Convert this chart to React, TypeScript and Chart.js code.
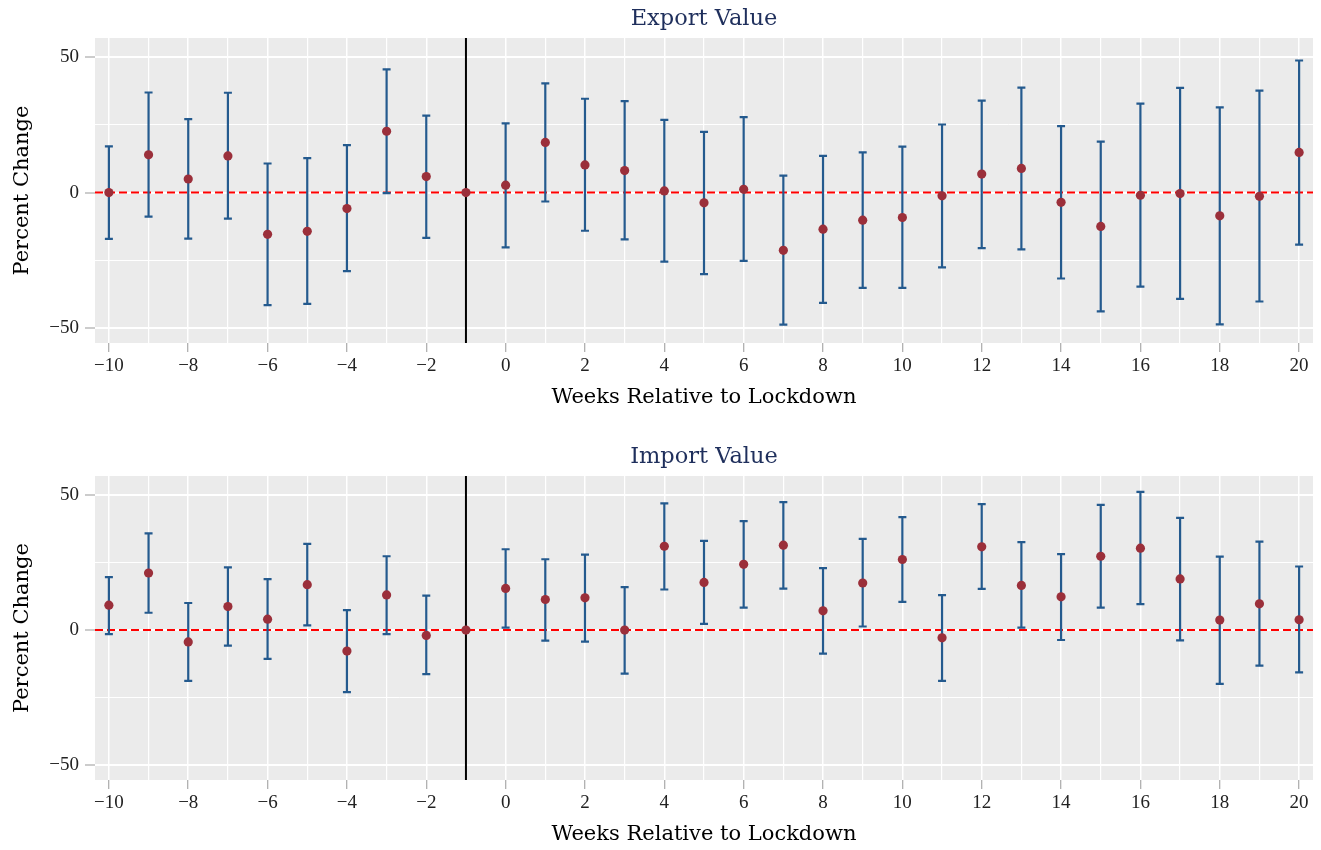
import React, { useEffect, useRef } from 'react';
import { Chart, registerables } from 'chart.js';

Chart.register(...registerables);

// ---------- data ----------
const weeks = [-10, -9, -8, -7, -6, -5, -4, -3, -2, -1, 0, 1, 2, 3, 4, 5, 6, 7, 8, 9, 10, 11, 12, 13, 14, 15, 16, 17, 18, 19, 20];

const exportCoef = [0, 13.9, 5.0, 13.5, -15.4, -14.3, -5.9, 22.6, 5.9, 0, 2.7, 18.5, 10.2, 8.1, 0.6, -3.8, 1.2, -21.3, -13.5, -10.2, -9.2, -1.2, 6.8, 8.9, -3.6, -12.5, -1.0, -0.4, -8.6, -1.4, 14.8];
const exportLo = [-17.1, -8.9, -17.0, -9.6, -41.5, -41.1, -29.0, -0.2, -16.7, null, -20.2, -3.3, -14.1, -17.3, -25.5, -30.1, -25.2, -48.7, -40.7, -35.2, -35.2, -27.6, -20.5, -21.0, -31.7, -43.8, -34.7, -39.2, -48.6, -40.2, -19.2];
const exportHi = [17.0, 36.9, 27.1, 36.8, 10.7, 12.7, 17.5, 45.4, 28.4, null, 25.5, 40.3, 34.6, 33.7, 26.8, 22.4, 27.8, 6.2, 13.5, 14.8, 16.9, 25.1, 33.9, 38.7, 24.5, 18.8, 32.8, 38.6, 31.4, 37.6, 48.7];

const importCoef = [9.2, 21.1, -4.4, 8.7, 4.0, 16.8, -7.8, 13.0, -2.0, 0, 15.4, 11.3, 11.9, 0, 31.0, 17.6, 24.3, 31.4, 7.1, 17.4, 26.1, -2.9, 30.8, 16.5, 12.3, 27.3, 30.3, 18.9, 3.7, 9.7, 3.8];
const importLo = [-1.5, 6.4, -18.8, -5.8, -10.7, 1.7, -23.0, -1.5, -16.3, null, 0.9, -3.9, -4.3, -16.1, 15.0, 2.3, 8.3, 15.3, -8.7, 1.3, 10.4, -18.8, 15.2, 0.9, -3.7, 8.3, 9.6, -3.8, -19.9, -13.2, -15.7];
const importHi = [19.6, 35.8, 10.0, 23.2, 18.8, 31.9, 7.4, 27.3, 12.7, null, 29.9, 26.2, 27.9, 15.9, 46.9, 33.0, 40.3, 47.3, 22.9, 33.7, 41.8, 12.9, 46.6, 32.5, 28.1, 46.3, 51.1, 41.5, 27.2, 32.7, 23.5];

const yTicks = [-50, -25, 0, 25, 50];
const yLabeled = [-50, 0, 50];
const xRange = [-10.35, 20.35];
const yRange = [-55.5, 57];
const zeroLineValue = 0;
const lockdownWeek = -1;

const xTitle = 'Weeks Relative to Lockdown';
const yTitle = 'Percent Change';

// ---------- style ----------
const FONT = "'DejaVu Serif', 'Liberation Serif', serif";
const TICK_FONT = "'Liberation Serif', 'DejaVu Serif', serif";
const BG = '#EBEBEB';
const BAR_COLOR = '#245A8E';
const POINT_COLOR = '#9B2F3A';
const TITLE_COLOR = '#1F2F5C';

const fmt = (v: number) => (v < 0 ? '\u2212' + Math.abs(v) : String(v));

function Panel(props: { title: string; coef: number[]; lo: (number | null)[]; hi: (number | null)[]; height: number; bottomPad: number }) {
  const ref = useRef<HTMLCanvasElement | null>(null);
  useEffect(() => {
    const canvas = ref.current;
    if (!canvas) return;
    const { title, coef, lo, hi, bottomPad } = props;

    const bgPlugin = {
      id: 'plotBg',
      beforeDraw(chart: any) {
        const { ctx, chartArea } = chart;
        ctx.save();
        ctx.fillStyle = BG;
        ctx.fillRect(chartArea.left, chartArea.top, chartArea.right - chartArea.left, chartArea.bottom - chartArea.top);
        ctx.restore();
      },
    };

    const errorBarPlugin = {
      id: 'errorBars',
      beforeDatasetDraw(chart: any, args: any) {
        if (args.index !== 0) return;
        const { ctx } = chart;
        const xs = chart.scales.x;
        const ys = chart.scales.y;
        ctx.save();
        ctx.strokeStyle = BAR_COLOR;
        ctx.lineWidth = 2.2;
        const cap = 4;
        weeks.forEach((w, i) => {
          const l = lo[i];
          const h = hi[i];
          if (l == null || h == null) return;
          const px = xs.getPixelForValue(w);
          const pl = ys.getPixelForValue(l);
          const ph = ys.getPixelForValue(h);
          ctx.beginPath();
          ctx.moveTo(px, pl);
          ctx.lineTo(px, ph);
          ctx.moveTo(px - cap, pl);
          ctx.lineTo(px + cap, pl);
          ctx.moveTo(px - cap, ph);
          ctx.lineTo(px + cap, ph);
          ctx.stroke();
        });
        ctx.restore();
      },
    };

    const chart = new Chart(canvas, {
      type: 'scatter',
      data: {
        datasets: [
          {
            type: 'scatter',
            data: weeks.map((w, i) => ({ x: w, y: coef[i] })),
            backgroundColor: POINT_COLOR,
            borderColor: POINT_COLOR,
            borderWidth: 0,
            pointRadius: 4.6,
            order: 0,
          },
          {
            type: 'line',
            data: [
              { x: xRange[0], y: zeroLineValue },
              { x: xRange[1], y: zeroLineValue },
            ],
            borderColor: '#FF0000',
            borderWidth: 2,
            borderDash: [8, 4],
            pointRadius: 0,
            order: 2,
          },
          {
            type: 'line',
            data: [
              { x: lockdownWeek, y: yRange[0] },
              { x: lockdownWeek, y: yRange[1] },
            ],
            borderColor: '#000000',
            borderWidth: 2,
            pointRadius: 0,
            order: 1,
          },
        ] as any,
      },
      options: {
        animation: false,
        responsive: false,
        events: [],
        layout: { padding: { left: 0, right: 8, top: 0, bottom: bottomPad } },
        plugins: {
          legend: { display: false },
          tooltip: { enabled: false },
          title: {
            display: true,
            fullSize: false,
            text: title,
            color: TITLE_COLOR,
            font: { family: FONT, size: 22.5, weight: 'normal' },
            padding: { top: 6, bottom: 5 },
          },
        },
        scales: {
          x: {
            type: 'linear',
            min: xRange[0],
            max: xRange[1],
            afterBuildTicks: (s: any) => {
              s.ticks = weeks.map((v) => ({ value: v }));
            },
            afterFit: (s: any) => {
              s.height = 70;
            },
            ticks: {
              autoSkip: false,
              maxRotation: 0,
              padding: 3,
              color: '#222',
              font: { family: TICK_FONT, size: 19 },
              callback: (v: any) => (Number(v) % 2 === 0 ? fmt(Number(v)) : ''),
            },
            grid: {
              color: '#FFFFFF',
              lineWidth: (c: any) => (c.tick && c.tick.value % 2 === 0 ? 1.5 : 1.2),
              tickLength: 9,
              tickWidth: 1,
              tickColor: (c: any) => (c.tick && c.tick.value % 2 === 0 ? '#999999' : 'rgba(0,0,0,0)'),
            },
            border: { display: false },
            title: {
              display: true,
              text: xTitle,
              color: '#000',
              font: { family: FONT, size: 21 },
              padding: { top: 0, bottom: 2.4 },
            },
          },
          y: {
            type: 'linear',
            min: yRange[0],
            max: yRange[1],
            afterBuildTicks: (s: any) => {
              s.ticks = yTicks.map((v) => ({ value: v }));
            },
            afterFit: (s: any) => {
              s.width = 95;
            },
            ticks: {
              autoSkip: false,
              padding: 6,
              color: '#222',
              font: { family: TICK_FONT, size: 19 },
              callback: (v: any) => (yLabeled.includes(Number(v)) ? fmt(Number(v)) : ''),
            },
            grid: {
              color: '#FFFFFF',
              lineWidth: (c: any) => (c.tick && yLabeled.includes(c.tick.value) ? 2 : 1),
              tickLength: 10,
              tickWidth: 1,
              tickColor: (c: any) => (c.tick && yLabeled.includes(c.tick.value) ? '#999999' : 'rgba(0,0,0,0)'),
            },
            border: { display: false },
            title: {
              display: true,
              text: yTitle,
              color: '#000',
              font: { family: FONT, size: 21 },
              padding: { top: 9.5, bottom: 0 },
            },
          },
        },
      } as any,
      plugins: [bgPlugin, errorBarPlugin],
    });
    return () => chart.destroy();
  }, []);
  return <canvas ref={ref} width={1321} height={props.height} style={{ display: 'block', width: 1321, height: props.height }} />;
}

export default function App() {
  return (
    <div style={{ position: 'absolute', left: 0, top: 0, width: 1321, height: 850, background: '#fff' }}>
      <Panel title="Export Value" coef={exportCoef} lo={exportLo} hi={exportHi} height={438} bottomPad={25} />
      <Panel title="Import Value" coef={importCoef} lo={importLo} hi={importHi} height={412} bottomPad={0} />
    </div>
  );
}
